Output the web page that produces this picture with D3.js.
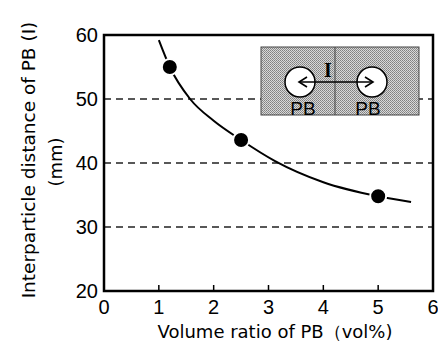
<!DOCTYPE html>
<html>
<head>
<meta charset="utf-8">
<script src="https://cdn.jsdelivr.net/npm/d3@7"></script>
<style>
  body { margin: 0; background: #fff; }
  text { font-family: "Liberation Sans", Arial, sans-serif; fill: #000; }
  .title { font-family: "DejaVu Sans", sans-serif; }
</style>
</head>
<body>
<div id="chart"></div>
<script>
// measured points
var ratioVals = [1.2, 2.5, 5.0];
var distVals = [55.0, 43.6, 34.8];

// fitted curve
var curveX = [1.0, 1.2, 1.57, 2.0, 2.5, 3.12, 4.0, 5.0, 5.6];
var curveY = [59.2, 55.0, 50.0, 46.6, 43.6, 40.3, 37.0, 34.8, 33.9];

var xTicks = [0, 1, 2, 3, 4, 5, 6];
var yTicks = [20, 30, 40, 50, 60];
var gridVals = [30, 40, 50];

var width = 438, height = 347;
var mLeft = 104, mRight = 433, mTop = 35, mBottom = 291;

var svg = d3.select("#chart").append("svg")
  .attr("width", width)
  .attr("height", height);

var x = d3.scaleLinear().domain([0, 6]).range([mLeft, mRight]);
var y = d3.scaleLinear().domain([20, 60]).range([mBottom, mTop]);

// dashed grid
svg.selectAll(".grid")
  .data(gridVals)
  .enter()
  .append("line")
  .attr("x1", mLeft).attr("x2", mRight)
  .attr("y1", d => y(d)).attr("y2", d => y(d))
  .attr("stroke", "#222")
  .attr("stroke-width", 1.3)
  .attr("stroke-dasharray", "7,5");

// inset picture
var inset = svg.append("g");
var defs = svg.append("defs");
var pat = defs.append("pattern")
  .attr("id", "stip")
  .attr("width", 2).attr("height", 2)
  .attr("patternUnits", "userSpaceOnUse");
pat.append("rect").attr("width", 2).attr("height", 2).attr("fill", "#d8d8d8");
pat.append("rect").attr("width", 1).attr("height", 1).attr("fill", "#808080");
pat.append("rect").attr("x", 1).attr("y", 1).attr("width", 1).attr("height", 1).attr("fill", "#909090");

inset.append("rect")
  .attr("x", 261).attr("y", 47)
  .attr("width", 158).attr("height", 68)
  .attr("fill", "url(#stip)")
  .attr("stroke", "#444")
  .attr("stroke-width", 1);
inset.append("line")
  .attr("x1", 335).attr("x2", 335)
  .attr("y1", 47).attr("y2", 115)
  .attr("stroke", "#444").attr("stroke-width", 1);
[300, 372].forEach(function (cx) {
  inset.append("circle")
    .attr("cx", cx).attr("cy", 82).attr("r", 15)
    .attr("fill", "#fff")
    .attr("stroke", "#000").attr("stroke-width", 1.5);
});
inset.append("line")
  .attr("x1", 300).attr("x2", 372)
  .attr("y1", 82).attr("y2", 82)
  .attr("stroke", "#000").attr("stroke-width", 1.6);
inset.append("path")
  .attr("d", "M307,77 L299,82 L307,87 M365,77 L373,82 L365,87")
  .attr("fill", "none")
  .attr("stroke", "#000").attr("stroke-width", 1.6);
inset.append("text")
  .attr("x", 328).attr("y", 77)
  .attr("text-anchor", "middle")
  .style("font-family", "'Liberation Serif', serif")
  .style("font-size", "20px")
  .style("font-weight", "bold")
  .text("I");
[303, 368].forEach(function (cx) {
  inset.append("text")
    .attr("x", cx).attr("y", 115)
    .attr("text-anchor", "middle")
    .style("font-size", "19px")
    .text("PB");
});

// curve
var line = d3.line()
  .x((d, i) => x(curveX[i]))
  .y((d, i) => y(curveY[i]))
  .curve(d3.curveMonotoneX);
svg.append("path")
  .datum(curveX)
  .attr("d", line)
  .attr("fill", "none")
  .attr("stroke", "#000")
  .attr("stroke-width", 2);

// points
svg.selectAll(".pt")
  .data(ratioVals)
  .enter()
  .append("circle")
  .attr("cx", d => x(d))
  .attr("cy", (d, i) => y(distVals[i]))
  .attr("r", 8)
  .attr("fill", "#000")
  .attr("stroke", "#fff")
  .attr("stroke-width", 2);

// frame
svg.append("rect")
  .attr("x", mLeft).attr("y", mTop)
  .attr("width", mRight - mLeft).attr("height", mBottom - mTop)
  .attr("fill", "none")
  .attr("stroke", "#000")
  .attr("stroke-width", 2.5);

// x ticks (inward)
svg.selectAll(".xt")
  .data(xTicks.slice(1, -1))
  .enter()
  .append("line")
  .attr("x1", d => x(d)).attr("x2", d => x(d))
  .attr("y1", mBottom).attr("y2", mBottom - 6)
  .attr("stroke", "#000").attr("stroke-width", 1.5);

svg.selectAll(".xl")
  .data(xTicks)
  .enter()
  .append("text")
  .attr("x", d => x(d))
  .attr("y", 314)
  .attr("text-anchor", "middle")
  .style("font-size", "20px")
  .text(d => d);

svg.selectAll(".yl")
  .data(yTicks)
  .enter()
  .append("text")
  .attr("x", 98)
  .attr("y", d => y(d) + 7)
  .attr("text-anchor", "end")
  .style("font-size", "20px")
  .text(d => d);

// titles
svg.append("text")
  .attr("class", "title")
  .attr("x", 275).attr("y", 338)
  .attr("text-anchor", "middle")
  .style("font-size", "18px")
  .text("Volume ratio of PB\uff08vol%)");

svg.append("text")
  .attr("class", "title")
  .attr("transform", "translate(35,160) rotate(-90)")
  .attr("text-anchor", "middle")
  .style("font-size", "18.5px")
  .text("Interparticle distance of PB (I)");

svg.append("text")
  .attr("class", "title")
  .attr("transform", "translate(62,162) rotate(-90)")
  .attr("text-anchor", "middle")
  .style("font-size", "18px")
  .text("(mm)");
</script>
</body>
</html>
